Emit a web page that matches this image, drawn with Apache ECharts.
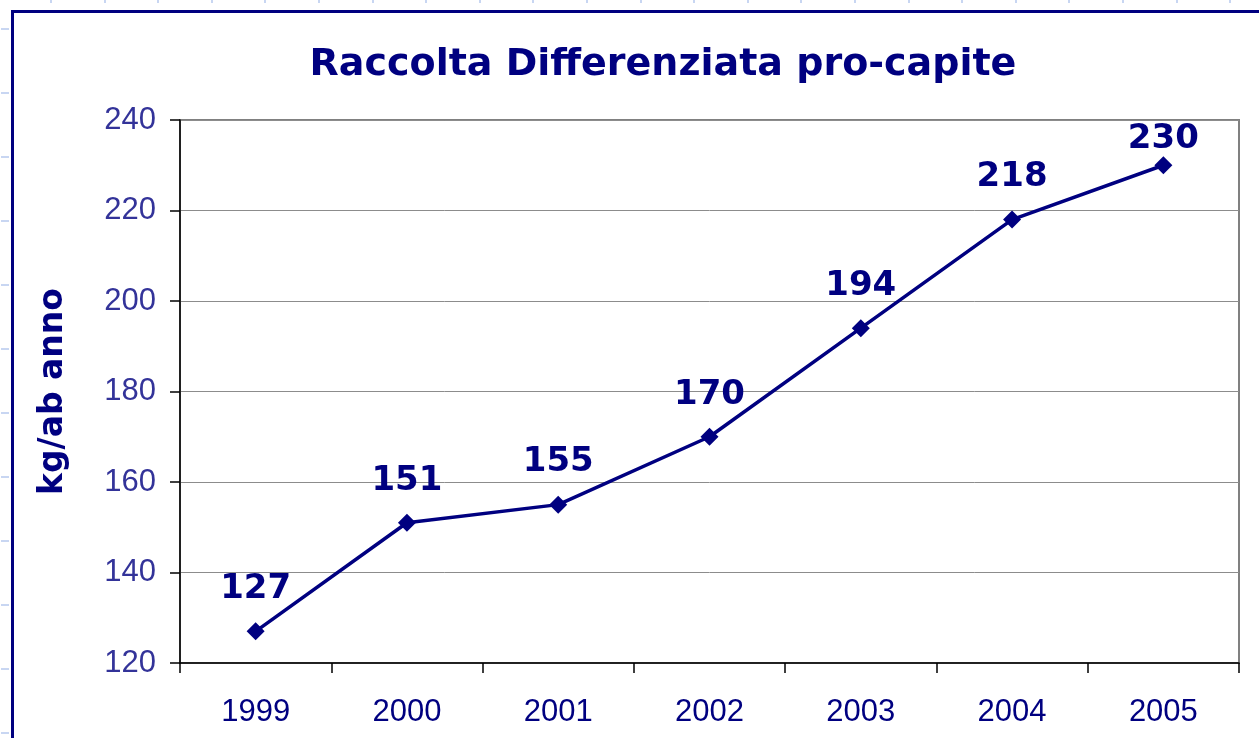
<!DOCTYPE html>
<html><head><meta charset="utf-8">
<script src="https://cdn.jsdelivr.net/npm/echarts@6/dist/echarts.min.js"></script>
<style>html,body{margin:0;padding:0;background:#fff}#c{width:1259px;height:738px}</style>
</head><body><div id="c"></div>
<script>
const years = ['1999','2000','2001','2002','2003','2004','2005'];
const values = [127,151,155,170,194,218,230];
const yTicks = [120,140,160,180,200,220,240];

const deco = [];
for (let x = 50; x < 1259; x += 53.6) deco.push({type:'rect',shape:{x:Math.round(x),y:0,width:2,height:3},style:{fill:'#c8d6f2'},silent:true});
for (let y = 28; y < 738; y += 64) deco.push({type:'rect',shape:{x:1,y:y,width:8,height:2},style:{fill:'#c8d6f2'},silent:true});
deco.push({type:'rect',shape:{x:12.5,y:11.5,width:1300,height:800},style:{fill:null,stroke:'#000080',lineWidth:3},z:100});

// the top point's label sits lower so it stays inside the plot area
const seriesData = values.map((v, i) => i === values.length - 1 ? {value:v, label:{distance:0}} : v);

const chart = echarts.init(document.getElementById('c'));
chart.setOption({
  animation:false,
  backgroundColor:'#fff',
  title:{text:'Raccolta Differenziata pro-capite',left:658,top:41,textAlign:'center',
    textStyle:{fontFamily:'DejaVu Sans',fontWeight:'bold',fontSize:38,color:'#000080'}},
  grid:{left:180,right:20,top:120,bottom:75,show:true,borderColor:'#808080',borderWidth:2,backgroundColor:'#fff'},
  xAxis:{type:'category',data:years,boundaryGap:true,
    axisLine:{lineStyle:{color:'#000',width:1.5}},
    axisTick:{show:true,length:10,alignWithLabel:false,lineStyle:{color:'#000',width:1.5}},
    axisLabel:{fontFamily:'Liberation Sans',fontSize:31,color:'#000080',margin:34}},
  yAxis:{type:'value',min:yTicks[0],max:yTicks[yTicks.length-1],interval:20,
    name:'kg/ab anno',nameLocation:'middle',nameGap:110,nameRotate:90,
    nameTextStyle:{fontFamily:'DejaVu Sans',fontWeight:'bold',fontSize:33,color:'#000080'},
    axisLine:{show:true,lineStyle:{color:'#000',width:1.5}},
    axisTick:{show:true,length:10,lineStyle:{color:'#000',width:1.5}},
    splitLine:{lineStyle:{color:'#8c8c8c',width:1}},
    axisLabel:{fontFamily:'Liberation Sans',fontSize:31,color:'#333399',margin:24}},
  series:[{type:'line',data:seriesData,symbol:'diamond',symbolSize:18,
    lineStyle:{color:'#000080',width:3.5},itemStyle:{color:'#000080'},
    label:{show:true,position:'top',distance:16,fontFamily:'DejaVu Sans',fontWeight:'bold',fontSize:34,color:'#000080'}}],
  graphic:deco
});
</script></body></html>
